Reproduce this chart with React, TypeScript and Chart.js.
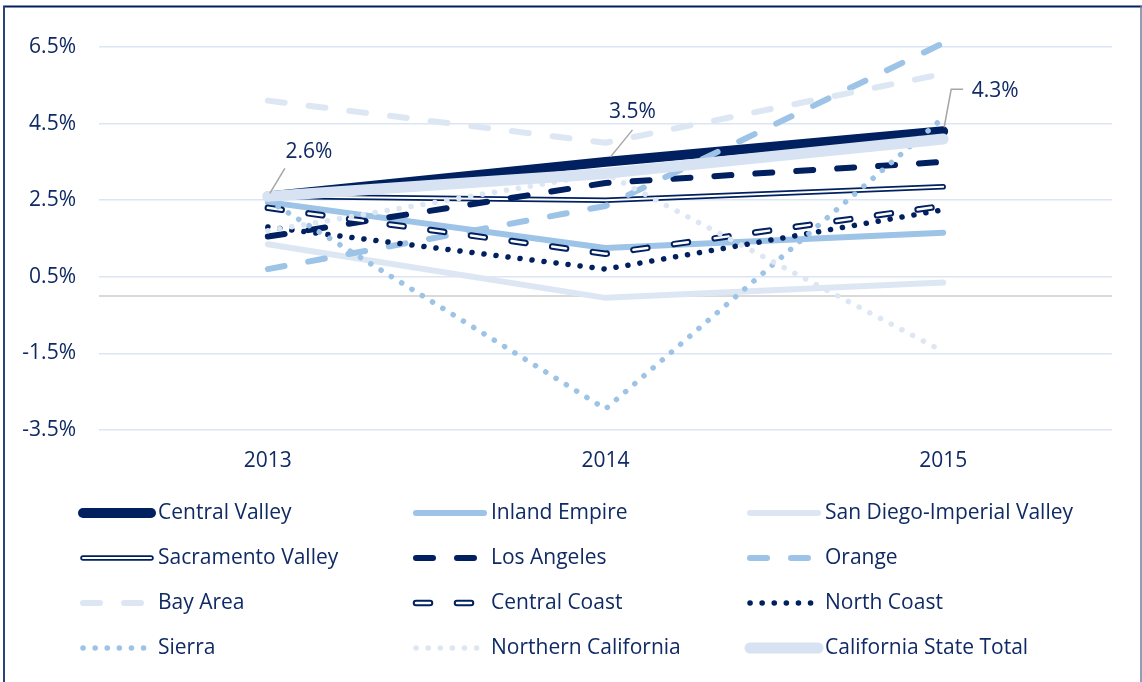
import React, { useEffect, useRef } from 'react';
import { Chart, registerables } from 'chart.js';

Chart.register(...registerables);

// ---- Data ----
const years = ['2013', '2014', '2015'];
const yMin = -3.5;
const yMax = 6.5;
const yStep = 2;

const centralValley = [2.6, 3.5, 4.3];
const inlandEmpire = [2.45, 1.25, 1.65];
const sanDiegoImperial = [1.35, -0.05, 0.35];
const sacramentoValley = [2.6, 2.5, 2.85];
const losAngeles = [1.55, 2.95, 3.5];
const orange = [0.7, 2.35, 6.6];
const bayArea = [5.1, 4.0, 5.8];
const centralCoast = [2.3, 1.1, 2.35];
const northCoast = [1.8, 0.7, 2.25];
const sierra = [2.5, -2.95, 4.65];
const northernCalifornia = [1.7, 3.2, -1.45];
const stateTotal = [2.6, 3.2, 4.1];

// ---- Styles ----
const NAVY = '#002060';
const LIGHT = '#9dc3e6';
const PALE = '#dde7f4';
const TOTAL = '#d7e3f3';
const TEXT = '#0f2a64';
const FONT = '"Open Sans"';
const FSIZE = 21;

type SeriesDef = {
  label: string;
  data: number[];
  color: string;
  width: number;
  dash?: number[];
  inner?: number;
};

const series: SeriesDef[] = [
  { label: 'Central Valley', data: centralValley, color: NAVY, width: 10 },
  { label: 'Inland Empire', data: inlandEmpire, color: LIGHT, width: 6 },
  { label: 'San Diego-Imperial Valley', data: sanDiegoImperial, color: PALE, width: 6 },
  { label: 'Sacramento Valley', data: sacramentoValley, color: NAVY, width: 5.5, inner: 2 },
  { label: 'Los Angeles', data: losAngeles, color: NAVY, width: 6, dash: [17, 24] },
  { label: 'Orange', data: orange, color: LIGHT, width: 6, dash: [17, 24] },
  { label: 'Bay Area', data: bayArea, color: PALE, width: 6, dash: [17, 24] },
  { label: 'Central Coast', data: centralCoast, color: NAVY, width: 6.5, dash: [14, 27], inner: 2.5 },
  { label: 'North Coast', data: northCoast, color: NAVY, width: 5.5, dash: [0.1, 12] },
  { label: 'Sierra', data: sierra, color: LIGHT, width: 5.5, dash: [0.1, 12] },
  { label: 'Northern California', data: northernCalifornia, color: PALE, width: 5.5, dash: [0.1, 12] },
  { label: 'California State Total', data: stateTotal, color: TOTAL, width: 11 },
];

function buildDatasets() {
  const out: any[] = [];
  series.forEach((s) => {
    out.push({
      label: s.label,
      data: s.data,
      borderColor: s.color,
      backgroundColor: s.color,
      borderWidth: s.width,
      borderDash: s.dash || [],
      borderCapStyle: 'round',
      borderJoinStyle: 'round',
      pointRadius: 0,
      pointHoverRadius: 0,
      tension: 0,
      fill: false,
      clip: false,
      isInner: false,
    });
    if (s.inner) {
      out.push({
        label: s.label + ' (inner)',
        data: s.data,
        borderColor: '#ffffff',
        backgroundColor: '#ffffff',
        borderWidth: s.inner,
        borderDash: s.dash || [],
        borderCapStyle: 'round',
        borderJoinStyle: 'round',
        pointRadius: 0,
        pointHoverRadius: 0,
        tension: 0,
        fill: false,
        clip: false,
        isInner: true,
        parentLabel: s.label,
      });
    }
  });
  const n = out.length;
  out.forEach((d, i) => (d.order = n - i));
  return out;
}

const framePlugin = {
  id: 'frame',
  beforeDraw(chart: any) {
    const ctx = chart.ctx;
    ctx.save();
    ctx.strokeStyle = NAVY;
    ctx.lineWidth = 2;
    ctx.beginPath();
    ctx.moveTo(3, 6.5);
    ctx.lineTo(1142, 6.5);
    ctx.stroke();
    ctx.strokeStyle = '#2b4478';
    ctx.beginPath();
    ctx.moveTo(4, 6);
    ctx.lineTo(4, 682);
    ctx.stroke();
    ctx.strokeStyle = '#6d7b9c';
    ctx.lineWidth = 1.5;
    ctx.beginPath();
    ctx.moveTo(1141, 6);
    ctx.lineTo(1141, 682);
    ctx.stroke();
    ctx.restore();
  },
};

const zeroLinePlugin = {
  id: 'zeroLine',
  beforeDatasetsDraw(chart: any) {
    const { ctx, chartArea, scales } = chart;
    const y = scales.y.getPixelForValue(0);
    ctx.save();
    ctx.strokeStyle = '#d9d9d9';
    ctx.lineWidth = 2;
    ctx.beginPath();
    ctx.moveTo(chartArea.left, y);
    ctx.lineTo(chartArea.right, y);
    ctx.stroke();
    ctx.restore();
  },
};

// label offsets for Central Valley annotations
const annotationLayout = [
  { tx: 41, ty: -44, path: [[2, -3], [17, -28]] },
  { tx: 27, ty: -50, path: [[5, -5], [27, -32]] },
  { tx: 52, ty: -40, path: [[1, -4], [8, -42], [20, -42]] },
];

const annotationPlugin = {
  id: 'cvLabels',
  afterDatasetsDraw(chart: any) {
    const ctx = chart.ctx;
    const idx = chart.data.datasets.findIndex((d: any) => d.label === 'Central Valley');
    const meta = chart.getDatasetMeta(idx);
    const data = chart.data.datasets[idx].data;
    ctx.save();
    meta.data.forEach((pt: any, i: number) => {
      const lay = annotationLayout[i];
      ctx.strokeStyle = '#a6a6a6';
      ctx.lineWidth = 1.5;
      ctx.setLineDash([]);
      ctx.beginPath();
      lay.path.forEach((p, j) => {
        if (j === 0) ctx.moveTo(pt.x + p[0], pt.y + p[1]);
        else ctx.lineTo(pt.x + p[0], pt.y + p[1]);
      });
      ctx.stroke();
      ctx.fillStyle = TEXT;
      ctx.font = `${FSIZE}px ${FONT}`;
      ctx.textAlign = 'center';
      ctx.textBaseline = 'middle';
      ctx.fillText(Number(data[i]).toFixed(1) + '%', pt.x + lay.tx, pt.y + lay.ty);
    });
    ctx.restore();
  },
};

const legendCols = [80, 413, 747];
const legendRows = [513, 558, 603, 648];
const legendLen = 74;

const legendPlugin = {
  id: 'customLegend',
  afterDraw(chart: any) {
    const ctx = chart.ctx;
    const datasets = chart.data.datasets;
    const mains = datasets.filter((d: any) => !d.isInner);
    ctx.save();
    mains.forEach((ds: any, i: number) => {
      const x = legendCols[i % 3];
      const y = legendRows[Math.floor(i / 3)];
      const drawSample = (d: any) => {
        ctx.strokeStyle = d.borderColor;
        ctx.lineWidth = d.borderWidth;
        ctx.lineCap = d.borderCapStyle;
        ctx.setLineDash(d.borderDash || []);
        ctx.beginPath();
        ctx.moveTo(x + 3, y);
        ctx.lineTo(x + legendLen - 3, y);
        ctx.stroke();
      };
      drawSample(ds);
      const inner = datasets.find((d: any) => d.isInner && d.parentLabel === ds.label);
      if (inner) drawSample(inner);
      ctx.setLineDash([]);
      ctx.fillStyle = TEXT;
      ctx.font = `${FSIZE}px ${FONT}`;
      ctx.textAlign = 'left';
      ctx.textBaseline = 'middle';
      ctx.fillText(ds.label, x + legendLen + 4, y);
    });
    ctx.restore();
  },
};

export default function App() {
  const canvasRef = useRef<HTMLCanvasElement | null>(null);

  useEffect(() => {
    document.body.style.margin = '0';
    const canvas = canvasRef.current;
    if (!canvas) return;
    const chart = new Chart(canvas, {
      type: 'line',
      data: { labels: years, datasets: buildDatasets() },
      options: {
        responsive: false,
        animation: false,
        devicePixelRatio: 1,
        layout: { padding: { left: 0, right: 30, top: 47, bottom: 202 } },
        plugins: { legend: { display: false }, tooltip: { enabled: false }, title: { display: false } },
        scales: {
          x: {
            offset: true,
            grid: { display: false, drawTicks: false, offset: true },
            border: { display: false },
            ticks: { color: TEXT, font: { family: FONT, size: FSIZE }, padding: 18 },
            afterFit: (scale: any) => {
              scale.height = 50;
            },
          },
          y: {
            min: yMin,
            max: yMax,
            grid: { color: '#dbe5f3', lineWidth: 1.5, drawTicks: false },
            border: { display: false },
            ticks: {
              stepSize: yStep,
              color: TEXT,
              font: { family: FONT, size: FSIZE },
              padding: 23,
              callback: (v: any) => Number(v).toFixed(1) + '%',
            },
            afterFit: (scale: any) => {
              scale.width = 99;
            },
          },
        },
      },
      plugins: [framePlugin, zeroLinePlugin, annotationPlugin, legendPlugin],
    });
    return () => chart.destroy();
  }, []);

  return (
    <div style={{ position: 'absolute', left: 0, top: 0, width: 1142, height: 682, background: '#fff' }}>
      <canvas ref={canvasRef} width={1142} height={682} style={{ display: 'block' }} />
    </div>
  );
}
